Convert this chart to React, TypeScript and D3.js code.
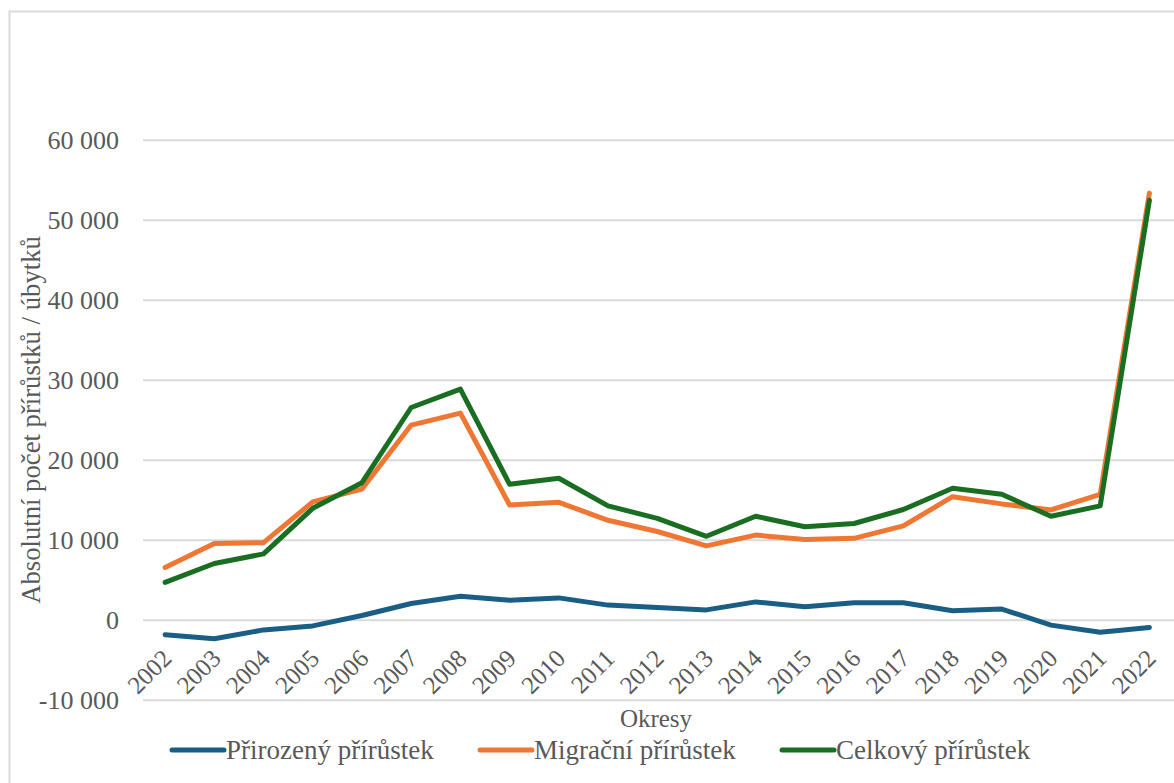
import React from "react";
import * as d3 from "d3";

const years = ["2002","2003","2004","2005","2006","2007","2008","2009","2010","2011","2012","2013","2014","2015","2016","2017","2018","2019","2020","2021","2022"];
const prirozeny = [-1800,-2300,-1200,-700,600,2100,3000,2500,2800,1900,1600,1300,2300,1700,2200,2200,1200,1400,-600,-1500,-900];
const migracni = [6600,9600,9700,14800,16400,24400,25900,14400,14750,12500,11100,9300,10650,10100,10250,11800,15450,14550,13800,15750,53400];
const celkovy = [4750,7100,8300,14000,17200,26600,28900,17000,17750,14300,12750,10500,13000,11700,12100,13850,16500,15750,13000,14300,52500];
const yTicks = [-10000,0,10000,20000,30000,40000,50000,60000];

const seriesNames = ["Přirozený přírůstek","Migrační přírůstek","Celkový přírůstek"];
const colors = ["#1b5e85","#ee7734","#1a6e22"];

const W = 1174, H = 783;
const FONT = "Liberation Serif, DejaVu Serif, serif";
const TXT = "#595959";

export default function App() {
  const x = d3.scalePoint<string>().domain(years).range([140.5, 1174]).padding(0.5);
  const y = d3.scaleLinear().domain([-10000, 60000]).range([700.3, 140.3]);
  const line = d3.line<number>().x((_, i) => x(years[i]) as number).y(d => y(d));
  const data = [prirozeny, migracni, celkovy];
  const fmt = (v: number) => d3.format(",")(v).replace(/,/g, " ").replace("\u2212", "-");
  const legendX = [172, 480, 782];
  const ts = { fontFamily: FONT };
  return (
    <svg width={W} height={H} style={{ position: "absolute", left: 0, top: 0, background: "#fff", fontFamily: FONT }}>
      <rect x={9.5} y={11.5} width={W + 10} height={H + 10} fill="#fff" stroke="#d9d9d9" strokeWidth={2} />
      {yTicks.map(t => (
        <g key={t}>
          <line x1={143} x2={1174} y1={y(t)} y2={y(t)} stroke="#d9d9d9" strokeWidth={2} />
          <text x={119} y={y(t)} dy="0.35em" textAnchor="end" fontSize={26} fill={TXT} style={ts}>{fmt(t)}</text>
        </g>
      ))}
      {years.map(yr => (
        <text key={yr} transform={`translate(${(x(yr) as number) + 8},${660}) rotate(-45)`} textAnchor="end" fontSize={25} fill={TXT} style={ts}>{yr}</text>
      ))}
      {data.map((d, i) => (
        <path key={i} d={line(d) || ""} fill="none" stroke={colors[i]} strokeWidth={5} strokeLinejoin="round" strokeLinecap="round" />
      ))}
      <text transform={`translate(40,420) rotate(-90)`} textAnchor="middle" fontSize={26.7} fill={TXT} style={ts}>Absolutní počet přírůstků / úbytků</text>
      <text x={656} y={727} textAnchor="middle" fontSize={25} fill={TXT} style={ts}>Okresy</text>
      {seriesNames.map((n, i) => (
        <g key={n}>
          <line x1={legendX[i]} x2={legendX[i] + 52} y1={750} y2={750} stroke={colors[i]} strokeWidth={5} strokeLinecap="round" />
          <text x={legendX[i] + 54} y={750} dy="0.35em" fontSize={27} fill={TXT} style={ts}>{n}</text>
        </g>
      ))}
    </svg>
  );
}
